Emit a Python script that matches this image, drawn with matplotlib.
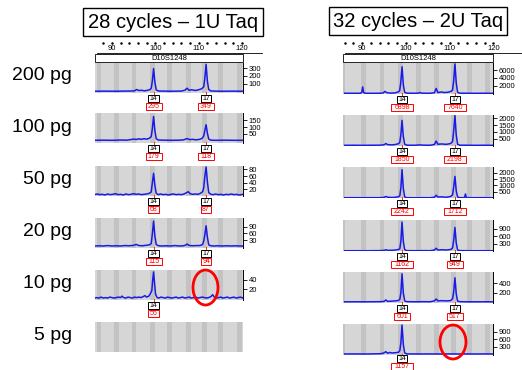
import matplotlib
matplotlib.use("Agg")
import matplotlib.pyplot as plt
from matplotlib.patches import Rectangle, Ellipse
from matplotlib.transforms import blended_transform_factory as blend

plt.rcParams['font.family'] = ['Liberation Sans', 'DejaVu Sans']

# ---------------- data ----------------
col_titles = ["28 cycles – 1U Taq", "32 cycles – 2U Taq"]
row_labels = ["200 pg", "100 pg", "50 pg", "20 pg", "10 pg", "5 pg"]
locus_name = "D10S1248"
allele_names = ["14", "17"]
ruler_labels = [90, 100, 110, 120]

# allele positions (bp) per column
allele_pos_left = [99.6, 111.7]
allele_pos_right = [99.1, 111.2]

# bin (stripe) centres in bp per column
bins_left = [87.0, 91.1, 95.1, 99.3, 103.3, 107.6, 111.4, 115.1, 119.4]
bins_right = [85.4, 90.3, 94.5, 98.7, 102.8, 106.9, 110.9, 114.6, 118.7]

# peak heights (RFU) printed under the alleles (None = not called)
heights_left = [[295, 349], [179, 118], [68, 87], [115, 94], [56, None], [None, None]]
heights_right = [[6898, 7640], [1850, 2198], [2242, 1712], [1162, 949], [601, 517], [1157, None]]

# right-axis ticks per panel
ticks_left = [[100, 200, 300], [50, 100, 150], [20, 40, 60, 80], [30, 60, 90], [20, 40], []]
ticks_right = [[2000, 4000, 6000], [500, 1000, 1500, 2000], [500, 1000, 1500, 2000],
               [300, 600, 900], [200, 400], [300, 600, 900]]

# y ranges per panel
ylim_left = [(-20, 367), (-17, 205), (0, 90), (-6, 129), (-2, 60), (0, 1)]
ylim_right = [(-130, 7870), (-30, 2240), (0, 2460), (0, 1250), (-20, 640), (-30, 1200)]

# traces (bp, RFU)
trace_L200 = [(86,3),(88,4),(90,3),(92,4),(94,5),(95.2,8),(95.7,25),(96.2,12),(96.8,15),(97.5,8),(98.2,15),
              (98.7,22),(99.05,40),(99.3,130),(99.6,295),(99.9,120),(100.2,20),(100.7,6),(102,4),(104,3),
              (106,5),(106.8,15),(107.3,42),(107.8,15),(108.4,22),(109.2,12),(110.0,22),(110.7,35),(111.15,60),
              (111.4,170),(111.7,349),(112.0,130),(112.3,25),(112.8,6),(114,4),(116,3),(118,4),(120.2,3)]
trace_L100 = [(86,3),(88,4),(90,3),(92,5),(93.5,4),(94.3,8),(95,12),(95.6,9),(96.2,14),(96.8,10),(97.4,15),
              (98.0,11),(98.6,18),(99.05,30),(99.3,85),(99.6,179),(99.9,75),(100.2,15),(100.7,5),(102,4),
              (104,3),(105.5,4),(106.5,6),(107.3,16),(107.9,8),(108.6,10),(109.4,6),(110.2,10),(110.8,18),
              (111.15,35),(111.4,75),(111.7,118),(112.0,55),(112.3,12),(112.8,4),(114,3),(116,4),(118,3),(120.2,3)]
trace_L50 = [(86,4),(86.6,6),(87.2,4),(87.8,5),(88.4,3),(89,6),(89.6,4),(90.2,5),(90.8,7),(91.4,4),(92,5),
             (92.6,3),(93.2,6),(93.8,4),(94.4,5),(95,7),(95.6,5),(96.2,6),(96.8,4),(97.4,5),(98,6),(98.6,8),
             (99.05,12),(99.3,38),(99.6,68),(99.9,32),(100.2,8),(100.7,4),(101.2,6),(101.8,4),(102.4,5),
             (103,3),(103.6,5),(104.2,6),(104.8,4),(105.4,5),(106,4),(106.6,6),(107.2,10),(107.6,13),(108.0,7),
             (108.6,5),(109.2,6),(109.8,5),(110.4,8),(110.9,13),(111.15,25),(111.4,58),(111.7,87),(112.0,42),
             (112.3,10),(112.8,5),(113.3,4),(113.9,6),(114.5,4),(115.1,5),(115.7,3),(116.3,5),(116.9,4),
             (117.5,6),(118.1,4),(118.7,5),(119.3,3),(120.2,5)]
trace_L20 = [(86,3),(87,4),(88,3),(89,5),(90,3),(91,4),(92,3),(93,5),(94,4),(95,6),(95.6,10),(96.2,5),(97,4),
             (97.8,6),(98.6,8),(99.05,14),(99.3,55),(99.6,115),(99.9,48),(100.2,10),(100.7,4),(101.5,3),
             (102.5,4),(103.5,3),(104.5,5),(105.5,3),(106.5,4),(107.0,7),(107.3,12),(107.7,6),(108.5,4),
             (109.5,5),(110.3,5),(110.9,10),(111.15,25),(111.4,52),(111.7,94),(112.0,42),(112.3,8),(112.8,4),
             (113.5,3),(114.5,4),(115.5,3),(116.5,4),(117.5,3),(118.5,4),(119.5,3),(120.2,3)]
trace_L10 = [(86,2),(86.5,3),(87,2),(87.5,4),(88,2),(88.5,3),(89,2),(89.5,4),(90,3),(90.5,2),(91,3),(91.5,4),
             (92,3),(92.3,6),(92.7,3),(93.2,2),(93.7,4),(94.2,3),(94.7,2),(95.2,4),(95.7,3),(96.2,4),(96.7,3),
             (97.2,5),(97.6,7),(98.0,4),(98.5,6),(98.9,12),(99.2,18),(99.4,40),(99.6,56),(99.8,35),(100.05,10),
             (100.4,3),(100.8,2),(101.3,4),(101.8,3),(102.3,2),(102.8,4),(103.3,3),(103.8,2),(104.3,3),
             (104.8,4),(105.3,2),(105.8,3),(106.3,4),(106.8,2),(107.3,3),(107.8,4),(108.3,2),(108.8,3),
             (109.3,4),(109.8,2),(110.3,3),(110.8,4),(111.3,3),(111.8,2),(112.3,3),(112.8,5),(113.2,9),
             (113.6,4),(114.1,2),(114.6,3),(115.1,4),(115.6,2),(116.1,3),(116.6,4),(117.1,2),(117.6,3),
             (118.1,4),(118.6,2),(119.1,3),(119.6,4),(120.2,2)]
trace_L5 = []

trace_R200 = [(86,60),(88,50),(89.6,60),(89.9,300),(90.1,1700),(90.3,300),(90.6,60),(92,50),(94,60),(94.8,150),
              (95.2,550),(95.6,200),(96.5,100),(97.5,150),(98.2,400),(98.55,700),(98.8,2700),(99.1,6898),
              (99.4,2200),(99.7,300),(100.2,80),(102,60),(102.8,80),(103.2,250),(103.6,80),(105.5,60),
              (106.5,200),(106.9,1300),(107.3,250),(108.2,400),(108.6,250),(109.5,300),(110.3,550),(110.65,900),
              (110.9,3200),(111.2,7640),(111.5,2700),(111.8,300),(112.3,80),(114,60),(116,50),(118,60),(119.9,50)]
trace_R100 = [(86,20),(88,25),(90,20),(92,25),(94,30),(95.0,60),(95.4,150),(95.8,70),(96.8,50),(97.6,80),
              (98.3,140),(98.6,250),(98.85,850),(99.1,1850),(99.4,650),(99.7,100),(100.2,30),(102,25),
              (103.2,50),(104,30),(105.5,25),(106.5,80),(106.9,330),(107.3,100),(108.2,120),(109.2,90),
              (110.2,150),(110.65,300),(110.9,1050),(111.2,2198),(111.5,750),(111.8,100),(112.3,30),
              (114,25),(116,20),(118,25),(119.9,20)]
trace_R50 = [(86,20),(88,25),(90,20),(92,25),(94,25),(95.0,50),(95.4,120),(95.8,60),(96.8,40),(97.6,60),
             (98.3,100),(98.6,200),(98.85,850),(99.1,2242),(99.4,750),(99.7,80),(100.2,25),(102,20),(104,25),
             (105.5,20),(106.5,60),(106.9,220),(107.3,80),(108.2,90),(109.2,60),(110.2,120),(110.65,250),
             (110.9,850),(111.2,1712),(111.5,550),(111.8,80),(112.3,25),(113.4,30),(113.6,320),(113.8,30),
             (115,20),(117,25),(119.9,20)]
trace_R20 = [(86,10),(88,12),(90,10),(92,12),(94,15),(95,25),(95.4,50),(95.8,25),(96.8,30),(97.6,40),
             (98.3,60),(98.6,100),(98.85,420),(99.1,1162),(99.4,380),(99.7,50),(100.2,15),(102,12),(104,15),
             (105.5,12),(106.5,40),(106.9,110),(107.3,40),(108.2,50),(109.2,40),(110.2,60),(110.65,120),
             (110.9,420),(111.2,949),(111.5,320),(111.8,40),(112.3,15),(114,12),(116,10),(118,12),(119.9,10)]
trace_R10 = [(86,5),(88,6),(90,5),(92,6),(94,8),(95,15),(95.4,45),(95.8,15),(96.8,20),(97.6,25),(98.3,35),
             (98.6,60),(98.85,210),(99.1,601),(99.4,190),(99.7,25),(100.2,8),(102,6),(104,8),(105.5,6),
             (106.5,25),(106.9,65),(107.3,25),(108.2,30),(109.2,25),(110.2,30),(110.65,70),(110.9,210),
             (111.2,517),(111.5,170),(111.8,20),(112.3,8),(114,6),(116,5),(118,6),(119.9,5)]
trace_R5 = [(86,10),(88,12),(90,10),(92,12),(94,20),(94.8,40),(95.4,100),(95.8,40),(96.3,70),(96.8,50),
            (97.6,60),(98.3,80),(98.6,150),(98.85,480),(99.1,1157),(99.4,380),(99.7,50),(100.2,15),(101,10),
            (102,12),(104,10),(106,12),(108,10),(110,12),(112,10),(114,12),(116,10),(118,12),(119.9,10)]

traces_left = [trace_L200, trace_L100, trace_L50, trace_L20, trace_L10, trace_L5]
traces_right = [trace_R200, trace_R100, trace_R50, trace_R20, trace_R10, trace_R5]

# ---------------- layout (pixels) ----------------
W, H = 522, 370
fig = plt.figure(figsize=(W / 100, H / 100), dpi=100)
fig.patch.set_facecolor('white')
ov = fig.add_axes([0, 0, 1, 1])
ov.set_xlim(0, W)
ov.set_ylim(H, 0)
ov.axis('off')
ov.set_zorder(10)

cols = [
    dict(x0=95, x1=243, xlim=(86.1, 120.2), tops=[63, 113, 166, 218, 270, 322], h=30,
         bins=bins_left, alleles=allele_pos_left, heights=heights_left, ticks=ticks_left,
         ylims=ylim_left, traces=traces_left, title_box=(83, 8, 263, 36), line_end=262),
    dict(x0=343, x1=493, xlim=(85.6, 119.9), tops=[63, 115, 167, 220, 272, 324], h=31,
         bins=bins_right, alleles=allele_pos_right, heights=heights_right, ticks=ticks_right,
         ylims=ylim_right, traces=traces_right, title_box=(329, 7, 507, 35), line_end=522),
]

label_y = [76, 127, 179, 231, 284, 335]
for lab, y in zip(row_labels, label_y):
    ov.text(72, y, lab, ha='right', va='center', fontsize=14, color='black')


def label_box(xc, ytop, txt, color):
    n = len(txt)
    w = 5.5 * n - 0.5
    ov.add_patch(Rectangle((xc - w / 2, ytop), w, 7, fc='white', ec=color, lw=0.7, zorder=2))
    ov.text(xc, ytop + 3.7, txt, ha='center', va='center', fontsize=5.0, color=color, zorder=3)


trace_color = '#1a1ae8'
for ci, c in enumerate(cols):
    # title box
    bx0, by0, bx1, by1 = c['title_box']
    ov.add_patch(Rectangle((bx0, by0), bx1 - bx0, by1 - by0, fc='white', ec='black', lw=1.0))
    ov.text((bx0 + bx1) / 2, (by0 + by1) / 2 + 0.5, col_titles[ci], ha='center', va='center', fontsize=14.5)

    axes_list = []
    for r in range(6):
        top = c['tops'][r]
        h = c['h']
        ax = fig.add_axes([c['x0'] / W, 1 - (top + h) / H, (c['x1'] - c['x0']) / W, h / H])
        ax.set_facecolor('#d6d6d6')
        for b in c['bins']:
            ax.axvspan(b - 0.55, b + 0.55, color='#c3c3c3', lw=0, zorder=0)
        ax.set_xlim(*c['xlim'])
        ax.set_ylim(*c['ylims'][r])
        tr = c['traces'][r]
        if tr:
            xs = [p[0] for p in tr]
            ys = [p[1] for p in tr]
            ax.plot(xs, ys, color=trace_color, lw=1.1, zorder=3, clip_on=True)
        for s in ['left', 'top', 'bottom']:
            ax.spines[s].set_visible(False)
        ax.set_xticks([])
        ax.yaxis.tick_right()
        ax.set_yticks(c['ticks'][r])
        ax.set_yticklabels([str(t) for t in c['ticks'][r]])
        ax.tick_params(axis='y', direction='out', length=3, width=0.6, pad=1, labelsize=5.5)
        if c['ticks'][r]:
            ax.spines['right'].set_linewidth(0.7)
        else:
            ax.spines['right'].set_visible(False)
        axes_list.append(ax)

        # allele labels (x position through the panel's data transform)
        bottom = top + h
        val_top = min(bottom + 10, 362.8)
        name_top = min(bottom + 2, val_top - 7.6)
        for ai, (name, val) in enumerate(zip(allele_names, c['heights'][r])):
            if val is None:
                continue
            disp = ax.transData.transform((c['alleles'][ai], 0))
            ox = ov.transData.inverted().transform(disp)[0]
            ov.plot([ox, ox], [bottom - 1, val_top], color='red', lw=0.6, zorder=1)
            label_box(ox, name_top, name, 'black')
            label_box(ox, val_top, str(val), 'red')

    # ruler + locus box using first panel's x scale
    ax0 = axes_list[0]
    tf = blend(ax0.transData, ov.transData)
    ticks_minor = [t for t in range(86, 124, 2) if c['xlim'][0] <= t <= c['xlim'][1] + 1]
    ov.scatter(ticks_minor, [43] * len(ticks_minor), s=0.6, color='black', transform=tf, zorder=3)
    for t in ruler_labels:
        ov.text(t, 48.5, str(t), transform=tf, ha='center', va='center', fontsize=5.5)
    ov.plot([c['x0'] + 2, c['line_end']], [53, 53], color='black', lw=0.6, zorder=3)
    ov.add_patch(Rectangle((c['x0'], 54), c['x1'] - c['x0'], 8, fc='white', ec='black', lw=0.6))
    ov.text((c['x0'] + c['x1']) / 2, 58.2, locus_name, ha='center', va='center', fontsize=5.5)

# red circles marking dropped-out alleles
ov.add_patch(Ellipse((205.5, 287.5), 25, 35, fc='none', ec='red', lw=2.0, zorder=20))
ov.add_patch(Ellipse((453, 342), 26, 34, fc='none', ec='red', lw=2.0, zorder=20))

fig.savefig('out.png', dpi=100, facecolor='white')
